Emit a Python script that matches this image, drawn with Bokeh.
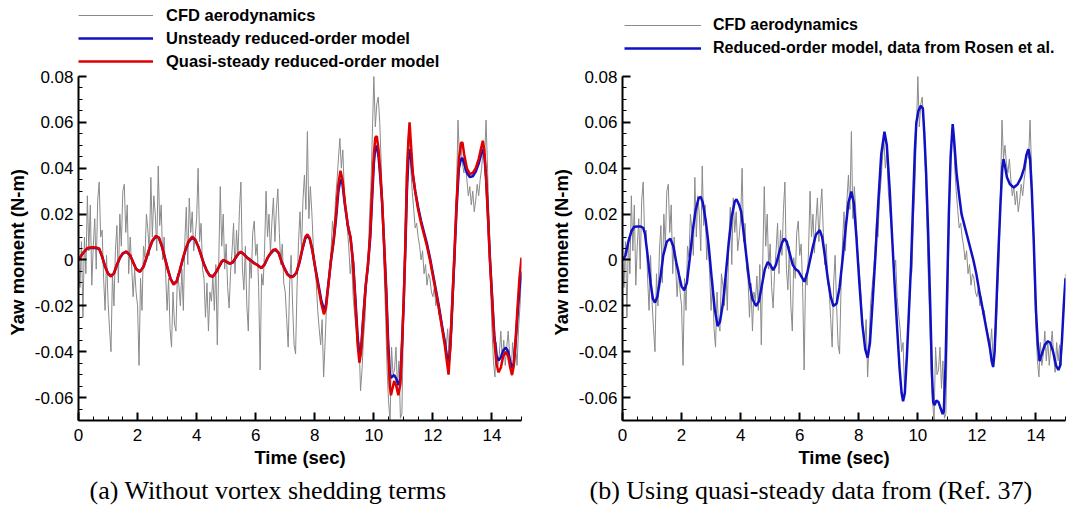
import numpy as np
from bokeh.plotting import figure
from bokeh.models import (Legend, LegendItem, SingleIntervalTicker,
                          CustomJSTickFormatter, Title, Range1d)
from bokeh.layouts import row
from bokeh.embed import file_html
from bokeh.resources import INLINE

# ---------------- CFD aerodynamics (sampled every 0.05 s) ----------------
cfd_t = np.round(np.arange(301) * 0.05, 2)
cfd_y = [
    0.000, -0.012, 0.008, -0.025, 0.010, -0.006, 0.028, 0.004, 0.024, -0.011, 0.006, 0.018, -0.004, 0.026, 0.034, 0.010, 0.013, -0.008, -0.022, 0.002,
    -0.018, -0.030, -0.040, -0.006, -0.020, 0.004, 0.015, -0.010, 0.020, 0.006, 0.030, 0.033, 0.012, 0.024, -0.006, 0.010, -0.003, -0.016, -0.004, -0.014,
    -0.020, -0.046, -0.008, -0.022, 0.006, 0.001, 0.020, 0.013, 0.002, 0.036, 0.010, 0.028, 0.020, 0.004, 0.041, 0.015, 0.024, 0.000, 0.010, -0.006,
    -0.022, -0.008, -0.030, -0.038, -0.014, -0.028, -0.031, -0.006, -0.011, -0.020, -0.004, -0.022, 0.008, 0.023, -0.002, 0.027, 0.012, 0.021, 0.004, 0.010,
    0.018, 0.040, 0.008, 0.016, -0.004, -0.008, -0.025, -0.010, -0.031, -0.014, -0.018, -0.007, -0.022, -0.002, -0.037, 0.000, 0.032, 0.006, 0.020, -0.004,
    0.007, -0.012, -0.021, -0.005, 0.004, 0.016, -0.006, 0.013, 0.002, 0.022, 0.034, -0.004, -0.013, 0.006, -0.020, -0.031, 0.001, -0.008, 0.012, 0.017,
    0.002, 0.007, -0.012, -0.048, -0.006, -0.011, 0.004, 0.030, 0.010, 0.020, 0.003, 0.017, 0.027, 0.008, 0.022, 0.031, 0.012, -0.002, 0.007, -0.010,
    -0.014, -0.026, -0.038, -0.010, 0.002, -0.020, -0.037, -0.041, -0.012, 0.008, 0.021, 0.004, 0.026, 0.037, 0.022, 0.056, 0.018, 0.032, 0.021, 0.006,
    -0.002, -0.010, -0.022, -0.030, -0.037, -0.026, -0.051, -0.036, -0.019, -0.012, -0.005, 0.004, 0.017, 0.010, 0.026, 0.034, 0.044, 0.053, 0.040, 0.048,
    0.030, 0.022, 0.014, 0.006, -0.006, 0.000, -0.016, -0.024, -0.030, -0.040, -0.036, -0.057, -0.048, -0.034, -0.026, -0.008, -0.005, 0.018, 0.032, 0.055,
    0.080, 0.058, 0.068, 0.071, 0.060, 0.042, 0.020, -0.005, -0.025, -0.048, -0.062, -0.070, -0.038, -0.050, -0.048, -0.038, -0.056, -0.044, -0.069, -0.067,
    -0.030, 0.010, 0.040, 0.052, 0.058, 0.040, 0.030, 0.022, 0.014, 0.016, 0.010, 0.006, 0.000, 0.004, -0.006, -0.002, -0.011, -0.006, -0.008, -0.014,
    -0.016, -0.012, -0.020, -0.016, -0.024, -0.022, -0.028, -0.031, -0.034, -0.038, -0.030, -0.044, -0.040, -0.031, -0.014, 0.000, 0.030, 0.061, 0.044, 0.050,
    0.042, 0.038, 0.044, 0.035, 0.028, 0.032, 0.024, 0.030, 0.021, 0.026, 0.033, 0.028, 0.035, 0.040, 0.048, 0.044, 0.061, 0.040, 0.017, -0.010,
    -0.030, -0.044, -0.051, -0.036, -0.046, -0.041, -0.031, -0.044, -0.035, -0.046, -0.038, -0.031, -0.042, -0.049, -0.036, -0.044, -0.037, -0.046, -0.030, -0.020,
    -0.006,
]

# ---------------- Panel (a): reduced-order models ----------------
a_t = [0.00, 0.15, 0.30, 0.45, 0.60, 0.70, 0.80, 0.90, 1.00, 1.10, 1.20, 1.30, 1.40, 1.50, 1.62, 1.75, 1.85, 1.95,
       2.08, 2.20, 2.30, 2.40, 2.50, 2.62, 2.72, 2.82, 2.92, 3.02, 3.12, 3.22, 3.32, 3.42, 3.52, 3.62, 3.72, 3.85, 3.95,
       4.05, 4.15, 4.25, 4.35, 4.45, 4.55, 4.65, 4.75, 4.85, 4.92, 5.00, 5.12, 5.22, 5.32, 5.42, 5.50, 5.60, 5.70, 5.82, 5.95,
       6.05, 6.19, 6.30, 6.40, 6.50, 6.60, 6.68, 6.78, 6.88, 6.98, 7.08, 7.18, 7.28, 7.38, 7.48, 7.58, 7.68, 7.75, 7.83, 7.92,
       8.02, 8.12, 8.22, 8.31, 8.38, 8.46, 8.55, 8.64, 8.72, 8.80, 8.87, 8.94, 9.02, 9.12, 9.21, 9.30, 9.38, 9.45, 9.51, 9.57,
       9.64, 9.72, 9.80, 9.88, 9.95, 10.00, 10.05, 10.10, 10.16, 10.22, 10.28, 10.36, 10.42, 10.48, 10.54, 10.58, 10.63, 10.69,
       10.76, 10.83, 10.90, 10.96, 11.01, 11.07, 11.12, 11.17, 11.21, 11.26, 11.32, 11.40, 11.50, 11.60, 11.70, 11.80, 11.90,
       12.00, 12.10, 12.20, 12.30, 12.40, 12.47, 12.53, 12.58, 12.65, 12.72, 12.80, 12.88, 12.95, 13.00, 13.06, 13.15, 13.25,
       13.35, 13.45, 13.55, 13.62, 13.69, 13.74, 13.80, 13.86, 13.93, 14.00, 14.08, 14.15, 14.22, 14.30, 14.38, 14.47, 14.55,
       14.62, 14.68, 14.74, 14.80, 14.87, 14.93, 15.00]
quasi_a = [0.0000, 0.0030, 0.0052, 0.0055, 0.0054, 0.0050, 0.0015, -0.0030, -0.0060, -0.0072, -0.0058, -0.0020, 0.0010, 0.0030, 0.0037, 0.0020, -0.0010, -0.0040,
           -0.0052, -0.0030, 0.0010, 0.0050, 0.0085, 0.0105, 0.0098, 0.0060, 0.0010, -0.0040, -0.0085, -0.0108, -0.0095, -0.0050, 0.0000, 0.0045, 0.0080, 0.0102, 0.0090,
           0.0060, 0.0020, -0.0020, -0.0050, -0.0070, -0.0073, -0.0055, -0.0030, -0.0005, 0.0000, -0.0006, -0.0016, -0.0010, 0.0010, 0.0030, 0.0036, 0.0025, 0.0010, -0.0002, -0.0015,
           -0.0022, -0.0036, -0.0020, 0.0010, 0.0030, 0.0045, 0.0047, 0.0030, -0.0010, -0.0040, -0.0065, -0.0075, -0.0072, -0.0055, -0.0010, 0.0050, 0.0100, 0.0112, 0.0095, 0.0040,
           -0.0040, -0.0115, -0.0190, -0.0237, -0.0210, -0.0110, 0.0000, 0.0090, 0.0200, 0.0330, 0.0389, 0.0350, 0.0250, 0.0150, 0.0098, -0.0020, -0.0200, -0.0360, -0.0448, -0.0400,
           -0.0260, -0.0120, -0.0020, 0.0120, 0.0320, 0.0460, 0.0534, 0.0540, 0.0480, 0.0380, 0.0260, 0.0030, -0.0150, -0.0380, -0.0550, -0.0590, -0.0560, -0.0528,
           -0.0550, -0.0590, -0.0540, -0.0350, -0.0180, 0.0080, 0.0360, 0.0520, 0.0600, 0.0500, 0.0380, 0.0300, 0.0220, 0.0160, 0.0110, 0.0060, 0.0000,
           -0.0070, -0.0140, -0.0210, -0.0290, -0.0370, -0.0440, -0.0500, -0.0400, -0.0200, 0.0000, 0.0250, 0.0440, 0.0510, 0.0512, 0.0460, 0.0400, 0.0375,
           0.0380, 0.0400, 0.0440, 0.0480, 0.0520, 0.0480, 0.0360, 0.0200, 0.0000, -0.0160, -0.0350, -0.0450, -0.0490, -0.0470, -0.0420, -0.0400, -0.0420,
           -0.0470, -0.0502, -0.0460, -0.0350, -0.0200, -0.0080, 0.0010]
unsteady_a = [0.0000, 0.0030, 0.0050, 0.0053, 0.0052, 0.0048, 0.0015, -0.0028, -0.0058, -0.0070, -0.0058, -0.0022, 0.0008, 0.0028, 0.0035, 0.0020, -0.0010, -0.0038,
              -0.0050, -0.0030, 0.0008, 0.0048, 0.0082, 0.0102, 0.0097, 0.0062, 0.0012, -0.0038, -0.0082, -0.0104, -0.0094, -0.0052, -0.0002, 0.0042, 0.0076, 0.0098, 0.0088,
              0.0060, 0.0022, -0.0018, -0.0048, -0.0068, -0.0071, -0.0055, -0.0032, -0.0008, -0.0002, -0.0007, -0.0016, -0.0011, 0.0008, 0.0028, 0.0034, 0.0025, 0.0012, 0.0000, -0.0013,
              -0.0021, -0.0034, -0.0020, 0.0008, 0.0027, 0.0041, 0.0043, 0.0030, -0.0008, -0.0038, -0.0062, -0.0072, -0.0070, -0.0055, -0.0012, 0.0046, 0.0094, 0.0105, 0.0092, 0.0042,
              -0.0035, -0.0105, -0.0175, -0.0215, -0.0195, -0.0105, -0.0002, 0.0082, 0.0180, 0.0300, 0.0352, 0.0330, 0.0240, 0.0150, 0.0098, -0.0010, -0.0180, -0.0330, -0.0419, -0.0385,
              -0.0255, -0.0120, -0.0025, 0.0100, 0.0290, 0.0420, 0.0490, 0.0498, 0.0450, 0.0360, 0.0250, 0.0040, -0.0130, -0.0340, -0.0495, -0.0514, -0.0508, -0.0502,
              -0.0518, -0.0545, -0.0520, -0.0350, -0.0190, 0.0060, 0.0300, 0.0440, 0.0483, 0.0440, 0.0370, 0.0300, 0.0230, 0.0170, 0.0120, 0.0070, 0.0010,
              -0.0060, -0.0130, -0.0200, -0.0280, -0.0355, -0.0415, -0.0456, -0.0390, -0.0210, -0.0010, 0.0220, 0.0400, 0.0440, 0.0444, 0.0420, 0.0380, 0.0362,
              0.0365, 0.0385, 0.0420, 0.0455, 0.0483, 0.0460, 0.0360, 0.0210, 0.0010, -0.0150, -0.0330, -0.0415, -0.0438, -0.0425, -0.0395, -0.0382, -0.0400,
              -0.0445, -0.0470, -0.0450, -0.0360, -0.0230, -0.0130, -0.0050]

# ---------------- Panel (b): reduced-order model, data from Rosen et al. ----------------
b_t = [0.00, 0.10, 0.20, 0.30, 0.40, 0.50, 0.60, 0.70, 0.76, 0.85, 0.95, 1.03, 1.10, 1.18, 1.28, 1.38, 1.50, 1.62, 1.72, 1.82, 1.92,
       2.00, 2.09, 2.18, 2.28, 2.38, 2.48, 2.58, 2.65, 2.72, 2.82, 2.92, 3.02, 3.12, 3.22, 3.30, 3.40, 3.50, 3.60, 3.70, 3.80, 3.86, 3.95,
       4.02, 4.10, 4.20, 4.30, 4.40, 4.52, 4.62, 4.72, 4.82, 4.92, 5.00, 5.10, 5.20, 5.30, 5.40, 5.48, 5.56, 5.66, 5.76, 5.86, 5.95,
       6.05, 6.16, 6.25, 6.35, 6.45, 6.55, 6.68, 6.76, 6.85, 6.95, 7.05, 7.14, 7.25, 7.35, 7.45, 7.55, 7.65, 7.75, 7.83, 7.92,
       8.02, 8.12, 8.22, 8.30, 8.38, 8.46, 8.56, 8.66, 8.76, 8.87, 8.95, 9.05, 9.13, 9.22, 9.30, 9.38, 9.45, 9.50, 9.56, 9.63, 9.70, 9.77,
       9.84, 9.90, 9.95, 10.02, 10.10, 10.17, 10.22, 10.28, 10.35, 10.42, 10.48, 10.52, 10.57, 10.63, 10.70, 10.78, 10.84, 10.88, 10.94,
       10.99, 11.05, 11.11, 11.18, 11.23, 11.31, 11.40, 11.48, 11.58, 11.68, 11.78, 11.88, 11.98, 12.10, 12.21, 12.32, 12.44, 12.50, 12.55,
       12.60, 12.66, 12.72, 12.80, 12.86, 12.90, 12.95, 13.02, 13.12, 13.25, 13.38, 13.50, 13.60, 13.68, 13.75, 13.80, 13.86, 13.92,
       14.00, 14.06, 14.12, 14.20, 14.30, 14.40, 14.48, 14.58, 14.68, 14.76, 14.82, 14.88, 14.94, 15.00]
rosen_b = [0.0000, 0.0020, 0.0080, 0.0125, 0.0145, 0.0146, 0.0146, 0.0140, 0.0115, 0.0020, -0.0100, -0.0170, -0.0186, -0.0160, -0.0080, 0.0020, 0.0080, 0.0093, 0.0060, -0.0010, -0.0070,
           -0.0115, -0.0132, -0.0100, 0.0010, 0.0130, 0.0220, 0.0270, 0.0275, 0.0250, 0.0170, 0.0060, -0.0080, -0.0210, -0.0288, -0.0270, -0.0190, -0.0060, 0.0080, 0.0190, 0.0255, 0.0265, 0.0240,
           0.0210, 0.0120, 0.0010, -0.0100, -0.0170, -0.0201, -0.0180, -0.0110, -0.0040, -0.0009, -0.0020, -0.0045, -0.0020, 0.0030, 0.0075, 0.0093, 0.0080, 0.0030, -0.0020, -0.0040, -0.0048,
           -0.0070, -0.0095, -0.0060, 0.0000, 0.0060, 0.0110, 0.0130, 0.0100, 0.0020, -0.0080, -0.0160, -0.0201, -0.0190, -0.0120, 0.0000, 0.0130, 0.0250, 0.0298, 0.0250, 0.0100,
           -0.0100, -0.0280, -0.0390, -0.0426, -0.0360, -0.0200, 0.0010, 0.0250, 0.0460, 0.0559, 0.0500, 0.0300, 0.0098, -0.0120, -0.0300, -0.0470, -0.0580, -0.0616, -0.0580, -0.0420, -0.0220, -0.0020,
           0.0250, 0.0480, 0.0600, 0.0650, 0.0672, 0.0660, 0.0550, 0.0380, 0.0120, -0.0200, -0.0500, -0.0620, -0.0633, -0.0612, -0.0620, -0.0650, -0.0672, -0.0660, -0.0450,
           -0.0150, 0.0200, 0.0450, 0.0592, 0.0520, 0.0380, 0.0280, 0.0200, 0.0150, 0.0100, 0.0050, 0.0000, -0.0060, -0.0150, -0.0223, -0.0300, -0.0383, -0.0440, -0.0467,
           -0.0400, -0.0200, 0.0010, 0.0250, 0.0400, 0.0440, 0.0410, 0.0360, 0.0330, 0.0316, 0.0330, 0.0360, 0.0400, 0.0460, 0.0483, 0.0440, 0.0300, 0.0100,
           -0.0220, -0.0360, -0.0441, -0.0410, -0.0370, -0.0355, -0.0360, -0.0400, -0.0460, -0.0480, -0.0460, -0.0350, -0.0200, -0.0080]

x_ticks_interval = 2
y_ticks_interval = 0.02
y_axis_min, y_axis_max = -0.07, 0.08

GRAY = "#8a8a8a"
BLUE = "#1010c4"
RED = "#e00000"

FIG_H = 518
BOTTOM = 98
AXIS_TOP_PX = 76          # screen y of the top of the y axis (0.08)


def make_fig(width, left, right, caption, cap_offset):
    frame_h = FIG_H - BOTTOM
    px_per_unit = (frame_h - AXIS_TOP_PX) / (y_axis_max - y_axis_min)
    y_top = y_axis_min + frame_h / px_per_unit   # room above the axis for the legend
    p = figure(width=width, height=FIG_H, x_range=Range1d(0, 15), y_range=Range1d(y_axis_min, y_top),
               output_backend="svg", toolbar_location=None,
               min_border_left=left, min_border_right=right, min_border_top=0, min_border_bottom=BOTTOM)
    p.outline_line_color = None
    p.grid.visible = False
    p.xaxis.ticker = SingleIntervalTicker(interval=x_ticks_interval, num_minor_ticks=4)
    p.yaxis.ticker = SingleIntervalTicker(interval=y_ticks_interval, num_minor_ticks=4)
    p.yaxis.bounds = (y_axis_min, y_axis_max)
    p.xaxis.formatter = CustomJSTickFormatter(code="return Math.round(tick).toString();")
    p.yaxis.formatter = CustomJSTickFormatter(
        code="if (Math.abs(tick) < 1e-9) { return '0'; } return tick.toFixed(2);")
    for ax in (p.xaxis[0], p.yaxis[0]):
        ax.axis_line_width = 2
        ax.axis_line_color = "black"
        ax.major_tick_in = 8
        ax.major_tick_out = 0
        ax.minor_tick_in = 4
        ax.minor_tick_out = 0
        ax.major_tick_line_width = 2
        ax.minor_tick_line_width = 1
        ax.major_tick_line_color = "black"
        ax.minor_tick_line_color = "black"
        ax.major_label_text_font = "Liberation Sans"
        ax.major_label_text_font_size = "17px"
        ax.major_label_text_color = "black"
    p.xaxis.axis_label = "Time (sec)"
    p.xaxis.axis_label_text_font = "Liberation Sans"
    p.xaxis.axis_label_text_font_style = "bold"
    p.xaxis.axis_label_text_font_size = "18.5px"
    p.xaxis.axis_label_text_color = "black"
    p.xaxis.major_label_standoff = 8
    p.yaxis.major_label_standoff = 5
    p.xaxis.axis_label_standoff = 3
    # y label: a vertical title centred on the visible axis
    ylab = Title(text="Yaw moment (N-m)", align="left", offset=85, standoff=8,
                 text_font="Liberation Sans", text_font_size="18.5px",
                 text_font_style="bold", text_color="black")
    p.add_layout(ylab, "left")
    cap = Title(text=caption, align="left", offset=cap_offset, standoff=6,
                text_font="Liberation Serif", text_font_size="26px",
                text_font_style="normal", text_color="black")
    p.add_layout(cap, "below")
    return p


def add_legend(p, items, loc, glyph_w, standoff, font_size):
    p.add_layout(Legend(items=items, location=loc, orientation="vertical",
                        glyph_width=glyph_w, glyph_height=20, label_height=20,
                        label_standoff=standoff, spacing=3, padding=0, margin=0,
                        border_line_color=None, background_fill_alpha=0,
                        label_text_font="Liberation Sans", label_text_font_style="bold",
                        label_text_font_size=font_size, label_text_color="black"), "center")


# Panel (a)
pa = make_fig(540, 77, 19, "(a) Without vortex shedding terms", 11)
ga = pa.line(cfd_t, cfd_y, line_color=GRAY, line_width=1)
ba = pa.line(a_t, unsteady_a, line_color=BLUE, line_width=2.5)
ra = pa.line(a_t, quasi_a, line_color=RED, line_width=2.5)
add_legend(pa, [
    LegendItem(label="CFD aerodynamics", renderers=[ga]),
    LegendItem(label="Unsteady reduced-order model", renderers=[ba]),
    LegendItem(label="Quasi-steady reduced-order model", renderers=[ra]),
], (0, 349), 75, 13, "16.5px")

# Panel (b)
pb = make_fig(533, 82, 8, "(b) Using quasi-steady data from (Ref. 37)", -33)
gb = pb.line(cfd_t, cfd_y, line_color=GRAY, line_width=1)
bb = pb.line(b_t, rosen_b, line_color=BLUE, line_width=2.5)
add_legend(pb, [
    LegendItem(label="CFD aerodynamics", renderers=[gb]),
    LegendItem(label="Reduced-order model, data from Rosen et al.", renderers=[bb]),
], (2, 362), 77, 12, "16px")

layout = row(pa, pb)
open("out.html", "w").write(file_html(layout, INLINE))
